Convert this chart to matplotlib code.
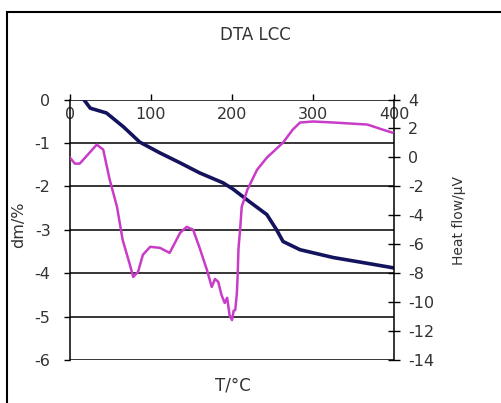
import matplotlib
matplotlib.use("Agg")
import matplotlib.pyplot as plt
from matplotlib.patches import Rectangle

plt.rcParams['font.family'] = ['DejaVu Sans']
plt.rcParams['axes.unicode_minus'] = False

# mass loss curve (left axis)
t_mass = [17, 25, 45, 66, 86, 111, 136, 160, 189, 201, 222, 243, 255, 263, 284, 325, 366, 397, 400]
dm = [0.0, -0.2, -0.31, -0.63, -0.98, -1.23, -1.46, -1.69, -1.92, -2.06, -2.36, -2.65, -3.0, -3.27,
      -3.46, -3.64, -3.77, -3.87, -3.88]

# heat flow curve (right axis)
t_heat = [0, 6, 12, 22, 33, 41, 49, 58, 65, 74, 78, 84, 90, 99, 111, 123, 136, 144, 152, 160,
          169, 175, 179, 183, 187, 191, 194, 197, 200, 202, 204, 206, 207, 208, 210, 212, 219,
          231, 243, 263, 275, 284, 300, 325, 367, 386, 398]
heat = [-0.02, -0.43, -0.43, 0.19, 0.88, 0.54, -1.54, -3.41, -5.70, -7.43, -8.26, -7.91, -6.73,
        -6.18, -6.25, -6.60, -5.21, -4.80, -5.0, -6.25, -7.77, -8.95, -8.4, -8.60, -9.5, -10.06,
        -9.7, -10.9, -11.24, -10.6, -10.54, -9.4, -8.12, -6.3, -5.0, -3.41, -2.23, -0.85, -0.02,
        1.02, 1.92, 2.41, 2.48, 2.41, 2.27, 1.92, 1.71]

x_ticks = [0, 100, 200, 300, 400]
left_ticks = [0, -1, -2, -3, -4, -5, -6]
right_ticks = [4, 2, 0, -2, -4, -6, -8, -10, -12, -14]

fig = plt.figure(figsize=(5.02, 4.03), dpi=100)
fig.patches.append(Rectangle((7 / 502, -0.1), 1.2, 0.1 + 1 - 12 / 403, transform=fig.transFigure,
                             fill=False, edgecolor='black', linewidth=1.5))

ax = fig.add_axes([70 / 502, 1 - 360 / 403, 324 / 502, 260.5 / 403])
ax2 = ax.twinx()
txt = '#333333'
fs = 11.5

ax.set_xlim(0, 400)
ax.set_ylim(-6, 0)
ax2.set_ylim(-14, 4)

for yv in left_ticks:
    ax.axhline(yv, color='black', linewidth=1.1, zorder=1)

ax.plot(t_mass, dm, color='#14145e', linewidth=2.6, zorder=3)
ax2.plot(t_heat, heat, color='#c83cc8', linewidth=1.8, zorder=3)

ax.xaxis.tick_top()
ax.set_xticks(x_ticks)
ax.tick_params(axis='x', direction='out', length=4, width=1, pad=-20.5, labelsize=fs, labelcolor=txt)
ax.set_yticks(left_ticks)
ax.tick_params(axis='y', direction='out', length=4, width=1, pad=10, labelsize=fs, labelcolor=txt)
ax2.set_yticks(right_ticks)
ax2.tick_params(axis='y', direction='inout', length=8, width=1, pad=6, labelsize=fs, labelcolor=txt)

for a in (ax, ax2):
    for s in a.spines.values():
        s.set_visible(False)
ax.spines['left'].set_visible(True)
ax.spines['left'].set_linewidth(1.1)
ax2.spines['right'].set_visible(True)
ax2.spines['right'].set_linewidth(1.1)

ax.set_ylabel('dm/%', fontsize=11.5, color=txt)
ax.yaxis.set_label_coords(-0.135, 0.52)
ax2.set_ylabel('Heat flow/µV', fontsize=10, color=txt)
ax2.yaxis.set_label_coords(1.178, 0.537)
fig.text(233 / 502, 1 - 385 / 403, 'T/°C', fontsize=12, color=txt, ha='center', va='center')
fig.text(255 / 502, 1 - 35 / 403, 'DTA LCC', fontsize=12, color=txt, ha='center', va='center')

fig.savefig('out.png', dpi=100)
